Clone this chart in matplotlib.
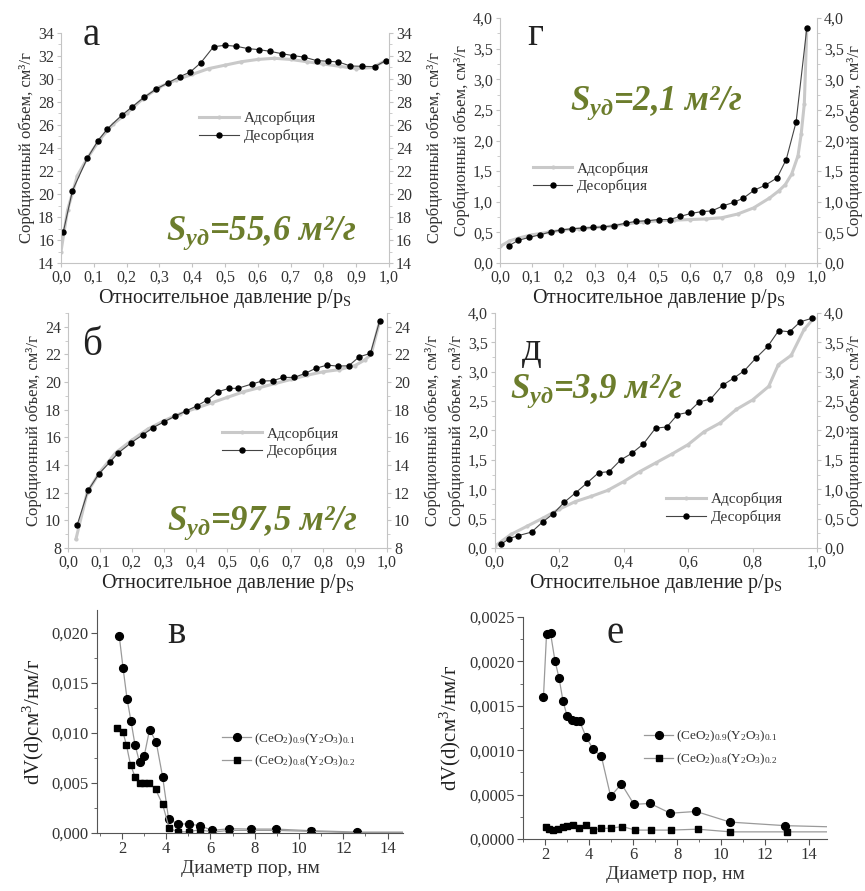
import matplotlib
matplotlib.use("Agg")
import matplotlib.pyplot as plt
from matplotlib.ticker import FuncFormatter, MultipleLocator, AutoMinorLocator

plt.rcParams["font.family"] = ["Liberation Serif", "DejaVu Serif"]
plt.rcParams["mathtext.fontset"] = "custom"
plt.rcParams["mathtext.rm"] = "Liberation Serif"
plt.rcParams["mathtext.it"] = "Liberation Serif:italic:bold"
plt.rcParams["mathtext.bf"] = "Liberation Serif:bold"

# --- isotherms: relative pressure p/ps, sorbed volume cm3/g ---
a_ads_x = [0.0, 0.02, 0.05, 0.08, 0.12, 0.16, 0.2, 0.25, 0.3, 0.35, 0.4, 0.45,
           0.5, 0.55, 0.6, 0.65, 0.7, 0.75, 0.8, 0.85, 0.9, 0.95, 0.99]
a_ads_y = [15.0, 18.6, 21.6, 23.1, 24.8, 26.1, 27.0, 28.3, 29.3, 29.9, 30.4, 30.9,
           31.2, 31.5, 31.7, 31.8, 31.7, 31.5, 31.3, 31.1, 30.9, 31.0, 31.6]
a_des_x = [0.007, 0.035, 0.08, 0.112, 0.141, 0.185, 0.218, 0.253, 0.289, 0.325,
           0.362, 0.394, 0.426, 0.465, 0.5, 0.535, 0.57, 0.604, 0.638, 0.673,
           0.708, 0.741, 0.779, 0.814, 0.846, 0.882, 0.919, 0.957, 0.99]
a_des_y = [16.7, 20.3, 23.1, 24.6, 25.65, 26.84, 27.6, 28.4, 29.1, 29.65,
           30.2, 30.6, 31.4, 32.8, 32.93, 32.84, 32.64, 32.55, 32.4, 32.2,
           32.03, 31.9, 31.6, 31.54, 31.48, 31.13, 31.1, 31.07, 31.6]

b_ads_x = [0.025, 0.06, 0.1, 0.15, 0.2, 0.25, 0.3, 0.35, 0.4, 0.45, 0.5, 0.55,
           0.6, 0.65, 0.7, 0.75, 0.8, 0.85, 0.9, 0.93, 0.95, 0.977]
b_ads_y = [8.65, 12.0, 13.5, 14.9, 15.8, 16.6, 17.2, 17.7, 18.1, 18.5, 18.9, 19.3,
           19.6, 19.9, 20.2, 20.5, 20.75, 20.9, 21.2, 21.6, 22.0, 24.4]
b_des_x = [0.029, 0.063, 0.097, 0.131, 0.157, 0.199, 0.234, 0.267, 0.302, 0.337,
           0.37, 0.403, 0.437, 0.471, 0.505, 0.532, 0.576, 0.609, 0.642, 0.675,
           0.709, 0.743, 0.776, 0.812, 0.845, 0.88, 0.913, 0.948, 0.977]
b_des_y = [9.68, 12.16, 13.37, 14.2, 14.86, 15.63, 16.18, 16.71, 17.14, 17.55,
           17.91, 18.27, 18.71, 19.31, 19.55, 19.55, 19.86, 20.08, 20.1, 20.34,
           20.34, 20.63, 20.99, 21.23, 21.16, 21.18, 21.83, 22.08, 24.43]

g_ads_x = [0.0, 0.03, 0.06, 0.1, 0.15, 0.2, 0.25, 0.3, 0.35, 0.4, 0.45, 0.5, 0.55,
           0.6, 0.65, 0.7, 0.75, 0.8, 0.85, 0.88, 0.9, 0.92, 0.94, 0.95, 0.96, 0.968]
g_ads_y = [0.27, 0.36, 0.41, 0.46, 0.5, 0.54, 0.56, 0.58, 0.6, 0.64, 0.67, 0.69, 0.7,
           0.71, 0.72, 0.74, 0.8, 0.9, 1.06, 1.18, 1.28, 1.45, 1.75, 2.1, 2.6, 3.84]
g_des_x = [0.027, 0.058, 0.093, 0.126, 0.161, 0.194, 0.228, 0.261, 0.295, 0.326,
           0.361, 0.396, 0.429, 0.465, 0.501, 0.535, 0.568, 0.603, 0.637, 0.668,
           0.702, 0.737, 0.768, 0.802, 0.837, 0.874, 0.903, 0.934, 0.968]
g_des_y = [0.28, 0.37, 0.42, 0.46, 0.51, 0.54, 0.56, 0.57, 0.58, 0.59,
           0.61, 0.65, 0.68, 0.69, 0.71, 0.71, 0.76, 0.81, 0.84, 0.85,
           0.93, 0.99, 1.06, 1.19, 1.27, 1.39, 1.69, 2.30, 3.84]

d_ads_x = [0.0, 0.05, 0.1, 0.15, 0.2, 0.25, 0.3, 0.35, 0.4, 0.45, 0.5, 0.55, 0.6,
           0.65, 0.7, 0.75, 0.8, 0.85, 0.88, 0.92, 0.96, 0.99]
d_ads_y = [0.03, 0.23, 0.37, 0.51, 0.66, 0.79, 0.88, 0.98, 1.13, 1.3, 1.45, 1.6, 1.76,
           1.98, 2.13, 2.36, 2.52, 2.75, 3.12, 3.28, 3.72, 3.91]
d_des_x = [0.019, 0.045, 0.073, 0.114, 0.15, 0.181, 0.216, 0.251, 0.287, 0.322,
           0.355, 0.391, 0.425, 0.461, 0.499, 0.534, 0.567, 0.601, 0.635, 0.669,
           0.707, 0.741, 0.775, 0.81, 0.847, 0.881, 0.915, 0.948, 0.984]
d_des_y = [0.06, 0.16, 0.21, 0.27, 0.45, 0.58, 0.78, 0.94, 1.11, 1.28,
           1.30, 1.50, 1.61, 1.77, 2.04, 2.06, 2.27, 2.31, 2.49, 2.53,
           2.77, 2.89, 3.02, 3.23, 3.43, 3.70, 3.68, 3.85, 3.91]

# --- pore size distributions: diameter nm, dV(d) ---
v_d1 = [1.88, 2.05, 2.23, 2.41, 2.59, 2.8, 3.01, 3.25, 3.55, 3.84, 4.11, 4.52,
        5.02, 5.52, 6.09, 6.85, 7.81, 8.94, 10.53, 12.64, 16.0]
v_y1 = [0.0197, 0.01654, 0.01345, 0.0112, 0.00884, 0.00706, 0.00773, 0.01035,
        0.00908, 0.00561, 0.00141, 0.00091, 0.00091, 0.00074, 0.00027, 0.00044,
        0.0004, 0.0004, 0.00024, 0.0001, 0.0001]
v_d2 = [1.8, 2.05, 2.2, 2.39, 2.59, 2.8, 3.01, 3.22, 3.52, 3.84, 4.14, 4.52,
        5.02, 5.52, 6.09, 6.85, 7.81, 8.94, 10.53, 12.64, 16.0]
v_y2 = [0.01049, 0.01008, 0.00884, 0.00682, 0.00565, 0.00504, 0.00504, 0.00504,
        0.00437, 0.00286, 0.00047, 0.00013, 0.00013, 0.00034, 0.0001, 0.00027,
        0.00027, 0.00027, 0.00017, 0.00003, 0.00003]

e_d1 = [1.93, 2.07, 2.25, 2.45, 2.64, 2.82, 3.01, 3.22, 3.39, 3.57, 3.86, 4.19,
        4.56, 4.98, 5.47, 6.04, 6.77, 7.69, 8.86, 10.4, 12.9, 16.0]
e_y1 = [0.0016, 0.00231, 0.00232, 0.00201, 0.00181, 0.00155, 0.00138, 0.00134,
        0.00133, 0.00133, 0.00115, 0.00101, 0.00093, 0.00048, 0.00062, 0.00039,
        0.0004, 0.00029, 0.00031, 0.00019, 0.00015, 0.00013]
e_d2 = [2.04, 2.19, 2.37, 2.6, 2.82, 3.01, 3.27, 3.54, 3.86, 4.19, 4.56, 4.98,
        5.5, 6.1, 6.81, 7.71, 8.93, 10.42, 13.0, 16.0]
e_y2 = [0.00014, 0.00011, 0.0001, 0.00011, 0.00014, 0.00015, 0.00016, 0.00012,
        0.00016, 0.0001, 0.00012, 0.00012, 0.00014, 0.0001, 0.0001, 0.0001,
        0.00011, 0.00008, 0.00008, 0.00008]

YLABEL = "Сорбционный объем, см³/г"
XLABEL = "Относительное давление p/p$_{\\mathrm{S}}$"
PSD_YLABEL = "dV(d)см$^{3}$/нм/г"
PSD_XLABEL = "Диаметр пор, нм"
LBL1 = "(CeO$_2$)$_{0.9}$(Y$_2$O$_3$)$_{0.1}$"
LBL2 = "(CeO$_2$)$_{0.8}$(Y$_2$O$_3$)$_{0.2}$"
S_COLOR = "#6c7d2c"


def comma(fmt):
    return FuncFormatter(lambda v, p: fmt.format(v).replace(".", ","))


def isotherm(rect, ads, des, ylim, ystep, xstep, fmt, letter, letter_xy,
             s_text, s_xy, leg_anchor, rpad):
    ax = fig.add_axes(rect)
    # second y label on the right, drawn by an empty twin axis
    tw = ax.twinx()
    tw.set_ylim(*ylim)
    tw.set_yticks([])
    for sp in tw.spines.values():
        sp.set_visible(False)
    tw.set_ylabel(YLABEL, fontsize=12, color="#333333", rotation=90, labelpad=rpad)

    ax.plot(ads[0], ads[1], color="#c9c9c9", lw=2.2, marker="o", ms=2,
            label="Адсорбция")
    ax.plot(des[0], des[1], color="#444444", lw=0.8, marker="o", ms=3.6,
            mfc="black", mec="black", label="Десорбция")
    ax.set_xlim(0, 1)
    ax.set_ylim(*ylim)
    ax.xaxis.set_major_locator(MultipleLocator(xstep))
    ax.yaxis.set_major_locator(MultipleLocator(ystep))
    ax.yaxis.set_minor_locator(AutoMinorLocator(2))
    ax.xaxis.set_major_formatter(comma("{:.1f}"))
    ax.yaxis.set_major_formatter(comma(fmt))
    for side in ("left", "right", "bottom"):
        ax.spines[side].set_color("#c4c4c4")
    ax.spines["top"].set_visible(False)
    ax.tick_params(which="both", colors="#c4c4c4", labelcolor="#333333",
                   labelsize=11.5, length=3, pad=2)
    ax.tick_params(axis="y", which="both", left=True, right=True,
                   labelleft=True, labelright=True)
    ax.tick_params(which="minor", length=2)
    ax.set_xlabel(XLABEL, fontsize=14.5, color="#222222", labelpad=1)
    ax.set_ylabel(YLABEL, fontsize=12, color="#333333", labelpad=2)
    ax.text(*letter_xy, letter, transform=ax.transAxes, fontsize=28,
            color="#222222", va="baseline")
    ax.text(*s_xy, s_text, transform=ax.transAxes, fontsize=25, color=S_COLOR,
            style="italic", weight="bold", va="baseline")
    ax.legend(loc="upper left", bbox_to_anchor=leg_anchor, frameon=False,
              fontsize=11, handlelength=2.6, handletextpad=0.3, labelspacing=0.25,
              labelcolor="#333333")
    return ax


def psd(rect, s1, s2, xlim, ylim, ystep, fmt, letter, letter_xy, leg_anchor):
    ax = fig.add_axes(rect)
    ax.plot(s1[0], s1[1], color="#9a9a9a", lw=0.9, marker="o", ms=5.6,
            mfc="black", mec="black", label=LBL1)
    ax.plot(s2[0], s2[1], color="#9a9a9a", lw=0.9, marker="s", ms=4.8,
            mfc="black", mec="black", label=LBL2)
    ax.set_xlim(*xlim)
    ax.set_ylim(*ylim)
    ax.xaxis.set_major_locator(MultipleLocator(2))
    ax.xaxis.set_minor_locator(MultipleLocator(1))
    ax.yaxis.set_major_locator(MultipleLocator(ystep))
    ax.yaxis.set_minor_locator(AutoMinorLocator(2))
    ax.yaxis.set_major_formatter(comma(fmt))
    for side in ("top", "right"):
        ax.spines[side].set_visible(False)
    for side in ("left", "bottom"):
        ax.spines[side].set_color("#555555")
    ax.tick_params(which="both", colors="#555555", labelcolor="#333333",
                   labelsize=12, length=4, pad=2)
    ax.tick_params(which="minor", length=2.5)
    ax.set_xlabel(PSD_XLABEL, fontsize=14, color="#333333", labelpad=2)
    ax.set_ylabel(PSD_YLABEL, fontsize=15, color="#222222", labelpad=4)
    ax.text(*letter_xy, letter, transform=ax.transAxes, fontsize=28,
            color="#222222", va="baseline")
    ax.legend(loc="upper left", bbox_to_anchor=leg_anchor, frameon=False,
              fontsize=9.5, handlelength=2.2, handletextpad=0.2, labelspacing=0.55,
              labelcolor="#333333")
    return ax


fig = plt.figure(figsize=(8.65, 8.91), dpi=100)

isotherm([0.0705, 0.7048, 0.3792, 0.2582], (a_ads_x, a_ads_y), (a_des_x, a_des_y),
         (14, 34), 2, 0.1, "{:.0f}", "а", (0.067, 0.948),
         "$S_{уд}$=55,6 м²/г", (0.32, 0.10), (0.38, 0.72), 27)
isotherm([0.578, 0.7048, 0.3665, 0.275], (g_ads_x, g_ads_y), (g_des_x, g_des_y),
         (0, 4), 0.5, 0.1, "{:.1f}", "г", (0.085, 0.89),
         "$S_{уд}$=2,1 м²/г", (0.22, 0.625), (0.06, 0.47), 21)
isotherm([0.0786, 0.385, 0.3688, 0.2637], (b_ads_x, b_ads_y), (b_des_x, b_des_y),
         (8, 25), 2, 0.1, "{:.0f}", "б", (0.044, 0.82),
         "$S_{уд}$=97,5 м²/г", (0.31, 0.077), (0.44, 0.575), 27)
isotherm([0.572, 0.385, 0.3725, 0.2637], (d_ads_x, d_ads_y), (d_des_x, d_des_y),
         (0, 4), 0.5, 0.2, "{:.1f}", "д", (0.084, 0.80),
         "$S_{уд}$=3,9 м²/г", (0.047, 0.64), (0.49, 0.295), 21)

psd([0.112, 0.065, 0.354, 0.2504], (v_d1, v_y1), (v_d2, v_y2), (0.87, 14.7),
    (0, 0.0223), 0.005, "{:.3f}", "в", (0.23, 0.852), (0.37, 0.51))
psd([0.6046, 0.0584, 0.3514, 0.2491], (e_d1, e_y1), (e_d2, e_y2), (1.0, 14.8),
    (0, 0.0025), 0.0005, "{:.4f}", "е", (0.276, 0.883), (0.36, 0.55))

fig.savefig("out.png", dpi=100, facecolor="white")
